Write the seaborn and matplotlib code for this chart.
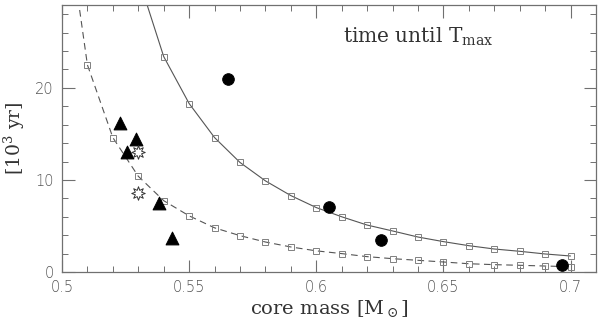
import matplotlib
matplotlib.use("Agg")
import matplotlib.pyplot as plt
from matplotlib.ticker import MultipleLocator
import seaborn as sns
import numpy as np

# model tracks (solid and dashed), squares every 0.01 in core mass
solid_mass = [0.53, 0.54, 0.55, 0.56, 0.57, 0.58, 0.59, 0.60, 0.61, 0.62,
              0.63, 0.64, 0.65, 0.66, 0.67, 0.68, 0.69, 0.70]
solid_time = [32.0, 23.4, 18.3, 14.6, 11.9, 9.9, 8.3, 7.0, 6.0, 5.1,
              4.46, 3.8, 3.3, 2.86, 2.5, 2.25, 1.96, 1.74]
dashed_mass = [0.50, 0.51, 0.52, 0.53, 0.54, 0.55, 0.56, 0.57, 0.58, 0.59,
               0.60, 0.61, 0.62, 0.63, 0.64, 0.65, 0.66, 0.67, 0.68, 0.69, 0.70]
dashed_time = [42.0, 22.5, 14.6, 10.4, 7.75, 6.1, 4.8, 3.95, 3.26, 2.72,
               2.3, 2.0, 1.67, 1.45, 1.27, 1.09, 0.9, 0.8, 0.73, 0.65, 0.58]

# observed objects
circle_mass = [0.5652, 0.6051, 0.6253, 0.6965]
circle_time = [21.0, 7.03, 3.5, 0.8]
triangle_mass = [0.5230, 0.5290, 0.5257, 0.5381, 0.5432]
triangle_time = [16.2, 14.5, 13.0, 7.5, 3.73]
star_mass = [0.5299, 0.5298]
star_time = [13.0, 8.55]

sns.set_theme(style="ticks")
plt.rcParams["font.family"] = ["DejaVu Serif"]
plt.rcParams["mathtext.fontset"] = "dejavuserif"

axis_grey = "#707070"
line_grey = "#555555"
text_col = "#333333"

fig = plt.figure(figsize=(6.0, 3.26), dpi=100)
ax = fig.add_axes([0.1033, 0.1656, 0.89, 0.8191])

sns.lineplot(x=solid_mass, y=solid_time, color=line_grey, linewidth=0.8,
             marker="s", markersize=5, markerfacecolor="none",
             markeredgecolor="#808080", markeredgewidth=0.7, ax=ax)
sns.lineplot(x=dashed_mass, y=dashed_time, color=line_grey, linewidth=0.8,
             linestyle=(0, (6, 4)), marker="s", markersize=5,
             markerfacecolor="none", markeredgecolor="#808080",
             markeredgewidth=0.7, ax=ax)

sns.scatterplot(x=circle_mass, y=circle_time, marker="o", s=70,
                color="black", edgecolor="black", ax=ax, zorder=5)
sns.scatterplot(x=triangle_mass, y=triangle_time, marker="^", s=85,
                color="black", edgecolor="black", ax=ax, zorder=5)
sns.scatterplot(x=star_mass, y=star_time, marker=(8, 1, 0), s=95,
                color="white", edgecolor="#333333", linewidth=0.7,
                ax=ax, zorder=5)

ax.set_xlim(0.5, 0.71)
ax.set_ylim(0, 29)
ax.xaxis.set_major_locator(MultipleLocator(0.05))
ax.xaxis.set_minor_locator(MultipleLocator(0.01))
ax.yaxis.set_major_locator(MultipleLocator(10))
ax.yaxis.set_minor_locator(MultipleLocator(2))
ax.set_xticks([0.5, 0.55, 0.6, 0.65, 0.7])
ax.set_xticklabels(["0.5", "0.55", "0.6", "0.65", "0.7"])

ax.tick_params(which="both", direction="in", top=True, right=True,
               color=axis_grey, labelcolor="#555555", labelsize=10.5, pad=6)
ax.tick_params(which="major", length=9, width=0.8)
ax.tick_params(which="minor", length=4.5, width=0.7)
for lab in ax.get_xticklabels() + ax.get_yticklabels():
    lab.set_family("DejaVu Sans")
    lab.set_fontweight("light")
for s in ax.spines.values():
    s.set_color(axis_grey)
    s.set_linewidth(0.9)

ax.set_xlabel(r"core mass [M$_\odot$]", fontsize=14, color=text_col, labelpad=2)
ax.set_ylabel(r"[10$^3$ yr]", fontsize=13.5, color=text_col)
ax.yaxis.set_label_coords(-0.066, 0.5)
ax.text(0.6106, 25.5, r"time until T$_{\rm max}$", fontsize=14.5,
        color=text_col, ha="left", va="center")

fig.savefig("out.png", dpi=100)
